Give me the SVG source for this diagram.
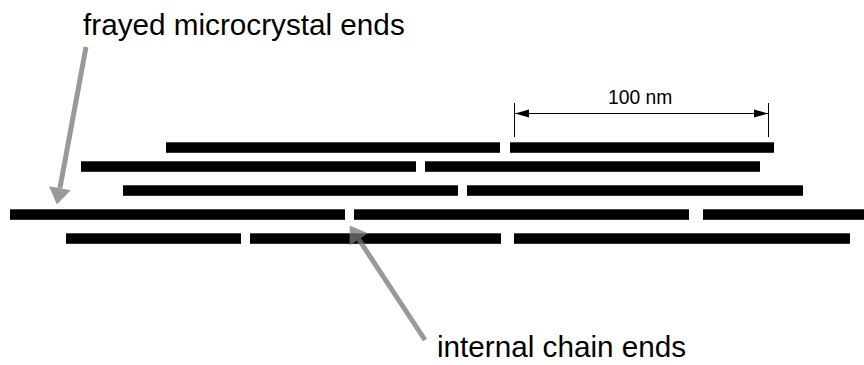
<svg xmlns="http://www.w3.org/2000/svg" width="864" height="365" viewBox="0 0 864 365">
  <style>
    .chain { fill: #000; }
    .label { font-family: "Liberation Sans", Arial, sans-serif; fill: #000; }
    .pointer { stroke: #787878; stroke-width: 5; fill: none; }
    .dim { stroke: #000; stroke-width: 1; fill: none; }
  </style>
  <defs>
    <marker id="grayHead" markerUnits="userSpaceOnUse" markerWidth="18" markerHeight="24" viewBox="0 -12 17 24" refX="0" refY="0" orient="auto">
      <path d="M0,-11 L16.5,0 L0,11 z" fill="#787878"/>
    </marker>
    <marker id="dimHead" markerUnits="userSpaceOnUse" markerWidth="15" markerHeight="10" viewBox="0 -5 15 10" refX="14" refY="0" orient="auto-start-reverse">
      <path d="M0,-4 L14,0 L0,4 z" fill="#000"/>
    </marker>
  </defs>
  <rect width="864" height="365" fill="#fff"/>

  <!-- polymer chain segments, one group per layer -->
  <g id="layer1">
    <rect class="chain" x="166" y="142.3" width="334" height="10.5"/>
    <rect class="chain" x="510" y="142.3" width="264" height="10.5"/>
  </g>
  <g id="layer2">
    <rect class="chain" x="81" y="161.3" width="335" height="10.5"/>
    <rect class="chain" x="425" y="161.3" width="335" height="10.5"/>
  </g>
  <g id="layer3">
    <rect class="chain" x="123" y="185.3" width="335" height="10.5"/>
    <rect class="chain" x="467" y="185.3" width="336" height="10.5"/>
  </g>
  <g id="layer4">
    <rect class="chain" x="10" y="209.3" width="335" height="10.5"/>
    <rect class="chain" x="354" y="209.3" width="335" height="10.5"/>
    <rect class="chain" x="703" y="209.3" width="161" height="10.5"/>
  </g>
  <g id="layer5">
    <rect class="chain" x="66" y="233.3" width="175" height="10.5"/>
    <rect class="chain" x="250" y="233.3" width="251" height="10.5"/>
    <rect class="chain" x="514" y="233.3" width="336" height="10.5"/>
  </g>

  <!-- labels -->
  <g id="label-frayed">
    <text class="label" x="83" y="34.5" font-size="29.7">frayed microcrystal ends</text>
  </g>
  <g id="label-internal">
    <text class="label" x="437" y="357" font-size="29.7">internal chain ends</text>
  </g>
  <g id="label-scale">
    <text class="label" x="608" y="104" font-size="19.3">100 nm</text>
  </g>

  <!-- connectors -->
  <g id="connectors">
    <g opacity="0.75">
      <line class="pointer" x1="86" y1="47" x2="59.9" y2="188.3" marker-end="url(#grayHead)"/>
    </g>
    <g opacity="0.75">
      <line class="pointer" x1="425" y1="340" x2="358.8" y2="239.4" marker-end="url(#grayHead)"/>
    </g>
    <line class="dim" x1="514.5" y1="103" x2="514.5" y2="137"/>
    <line class="dim" x1="768.5" y1="103" x2="768.5" y2="137"/>
    <line class="dim" x1="515" y1="113.5" x2="768" y2="113.5" marker-start="url(#dimHead)" marker-end="url(#dimHead)"/>
  </g>
</svg>
